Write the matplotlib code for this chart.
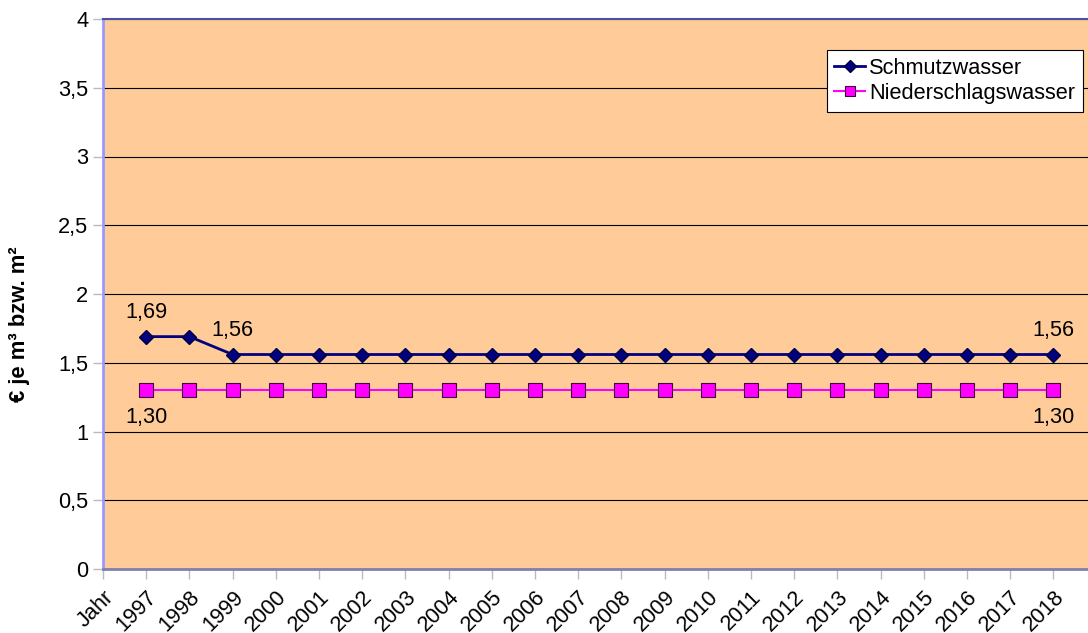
import matplotlib.pyplot as plt

plt.rcParams['font.family'] = ['Liberation Sans', 'DejaVu Sans']

# Gebühren je Jahr (1997 - 2018)
jahre = [str(j) for j in range(1997, 2019)]
schmutzwasser = [1.69, 1.69] + [1.56] * 20
niederschlag = [1.30] * 22
kategorien = ['Jahr'] + jahre
y_ticks = [0, 0.5, 1, 1.5, 2, 2.5, 3, 3.5, 4]


def komma(v):
    return f'{v:g}'.replace('.', ',')


def komma2(v):
    return f'{v:.2f}'.replace('.', ',')


fig = plt.figure(figsize=(10.88, 6.33), dpi=100, facecolor='w')
ax = fig.add_axes([103 / 1088, 64 / 633, 1 - 103 / 1088, 550 / 633],
                  facecolor='#FFCC99')

x = list(range(1, len(jahre) + 1))
ax.plot(x, schmutzwasser, color='#000080', lw=2, marker='D', ms=7.5,
        mfc='#000080', mec='#000040', label='Schmutzwasser', zorder=3)
ax.plot(x, niederschlag, color='#FF00FF', lw=1.5, marker='s', ms=9.5,
        mfc='#FF00FF', mec='#400040', mew=0.8, label='Niederschlagswasser', zorder=3)

# Wertbeschriftungen
fs = 15.7
for i in (0, 2, -1):
    ax.annotate(komma2(schmutzwasser[i]), (x[i], schmutzwasser[i]), xytext=(0, 17.5),
                textcoords='offset points', ha='center', va='center', fontsize=fs)
for i in (0, -1):
    ax.annotate(komma2(niederschlag[i]), (x[i], niederschlag[i]), xytext=(0, -19.5),
                textcoords='offset points', ha='center', va='center', fontsize=fs)

ax.set_xlim(0, 22.8)
ax.set_ylim(0, 4)
ax.set_yticks(y_ticks)
ax.set_yticklabels([komma(v) for v in y_ticks], fontsize=fs)
ax.set_xticks(range(len(kategorien)))
ax.set_xticklabels(kategorien, rotation=45, ha='right', va='top',
                   rotation_mode='anchor', fontsize=fs)
ax.tick_params(axis='both', length=7.5, color='#BBBBBB', width=1)
ax.tick_params(axis='y', pad=3)
ax.tick_params(axis='x', pad=5)

fig.text(20 / 1088, 1 - 324 / 633, '€ je m³ bzw. m²', rotation=90,
         ha='center', va='center', fontsize=15.8, fontweight='bold')

ax.grid(axis='y', color='black', lw=0.8)
ax.set_axisbelow(True)
ax.spines['left'].set_color('#9999FF')
ax.spines['left'].set_linewidth(2)
ax.spines['top'].set_color('#5050A0')
ax.spines['top'].set_linewidth(1.5)
ax.spines['bottom'].set_color('#8080B0')
ax.spines['bottom'].set_linewidth(2)
ax.spines['right'].set_visible(False)

legend = ax.legend(loc='upper right', bbox_to_anchor=(1083 / 1088, 1 - 50 / 633),
                   bbox_transform=fig.transFigure, fontsize=fs, frameon=True,
                   fancybox=False, framealpha=1, edgecolor='black',
                   handlelength=1.4, handletextpad=0.2, borderpad=0.35,
                   labelspacing=0.2, borderaxespad=0, markerscale=0.75)
legend.get_frame().set_linewidth(0.8)

fig.savefig('out.png', dpi=100)
